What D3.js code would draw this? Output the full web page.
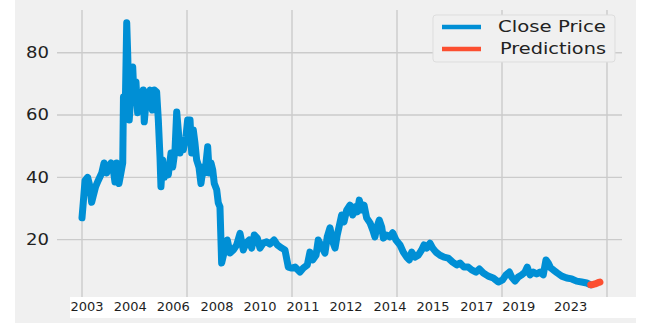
<!DOCTYPE html>
<html>
<head>
<meta charset="utf-8">
<script src="https://cdn.jsdelivr.net/npm/d3@7"></script>
<style>
  html, body { margin: 0; padding: 0; background: #ffffff; }
  svg { display: block; }
</style>
</head>
<body>
<div id="chart"></div>
<script>
// ---- data (trading-day index, close price) ----
const closeDays = [0,12,29,54,76,92,105,130,155,188,210,235,250,276,298,314,330,352,371,388,395,405,414,426,435,441,450,467,483,498,514,530,552,569,584,593,610,631,648,670,689,711,727,743,752,768,784,807,822,848,864,886,902,917,933,950,965,990,1006,1029,1045,1060,1076,1092,1114,1133,1155,1171,1197,1212,1229,1245,1260,1283,1298,1314,1330,1352,1384,1410,1441,1473,1505,1536,1562,1593,1616,1641,1670,1695,1727,1759,1790,1829,1860,1902,1933,1965,1997,2029,2076,2108,2146,2171,2197,2229,2250,2283,2314,2336,2362,2388,2410,2431,2457,2473,2495,2521,2552,2578,2600,2622,2641,2664,2686,2711,2743,2769,2790,2807,2831,2854,2870,2902,2933,2959,2990,3029,3060,3092,3117,3140,3171,3203,3235,3257,3283,3314,3340,3371,3410,3448,3488,3530,3569,3600,3638,3679,3711,3752,3784,3822,3869,3917,3965,4006,4038,4070,4092,4124,4155,4188,4219,4241,4267,4298,4330,4362,4393,4419,4441,4464,4489,4527,4569,4616,4664,4711,4759,4807,4845];
const closeValues = [27,31.8,39,40,37,32,33.7,37,39,41.4,44.6,41.4,43.3,44.6,42.4,38.5,44.6,38,41.4,44.6,65.8,59.4,66,89.6,80,72,58.4,67,75.4,64,70.6,60.7,64,61.6,68,57.8,64,65.8,68,61.6,68,67.4,58.4,46.5,37,45.6,40,43.3,40.8,47.8,43.3,48.8,61,55.2,47.8,52,48.8,53,58.4,58.4,47.8,55.2,51,45.6,43.3,38,43.3,41.4,49.8,41.4,44.6,42.4,38,36,31.8,30.5,12.5,15.7,19.9,15.7,16.7,18.3,22,16.7,18.9,19.9,17.3,21.5,20.5,17.3,18.9,19.3,18.6,19.9,18.3,17.3,16.7,11.2,10.9,11.2,9.6,10.9,11.9,16,13.5,15,19.9,17.7,15.7,20.9,23.8,19.3,17.3,21.5,25.4,27.9,25.7,29.5,31.1,27.9,30.5,28.9,32.7,29.5,31.1,27,25.4,23.1,20.9,23.8,26.3,24.1,20.5,21.5,20.9,22.2,19.9,18.3,16,14.4,13.5,16,14.4,15,16.7,18.3,17.3,18.9,17.3,16,15,14.4,14.1,12.8,11.9,12.5,11.2,11.2,10.3,9.6,10.6,9.3,8.3,7.7,6.4,7.1,8.7,9.6,8,6.7,8,8.7,9.6,11.2,8.7,9.6,9,9.6,8.7,13.5,12.5,10.9,10.3,9.3,8.3,7.7,7.4,6.7,6.4,6.1,5.5];
const predDays = [4845,4854,4886,4914,4933];
const predValues = [5.5,5.5,5.8,6.2,6.4];

const yTicks = [20, 40, 60, 80];
const xGridTicks = [0, 1000, 2000, 3000, 4000, 5000];
const xTickLabels = ["2003","2004","2006","2008","2010","2011","2012","2014","2015","2017","2019","2023"];
const xTickPositions = [48,460,870,1286,1695,2105,2514,2933,3343,3759,4160,4654];
const seriesNames = ["Close Price", "Predictions"];
const seriesColors = ["#008fd5", "#fc4f30"];

// ---- layout ----
const W = 649, H = 328;
const plot = { left: 57, right: 622, top: 10, bottom: 297 };

const svg = d3.select("#chart").append("svg")
  .attr("width", W).attr("height", H);

svg.append("rect").attr("x", 0).attr("y", 0).attr("width", W).attr("height", H).attr("fill", "#ffffff");
// figure background
svg.append("rect").attr("x", 15).attr("y", 0).attr("width", 621).attr("height", 323).attr("fill", "#f0f0f0");

const x = d3.scaleLinear().domain([-238, 5143]).range([plot.left, plot.right]);
const y = d3.scaleLinear().domain([1.6, 93.7]).range([plot.bottom, plot.top]);

// grid
const grid = svg.append("g").attr("stroke", "#cbcbcb").attr("stroke-width", 1.4);
grid.selectAll("line.h").data(yTicks).join("line")
  .attr("class", "h")
  .attr("x1", plot.left).attr("x2", plot.right)
  .attr("y1", d => y(d)).attr("y2", d => y(d));
grid.selectAll("line.v").data(xGridTicks).join("line")
  .attr("class", "v")
  .attr("y1", plot.top).attr("y2", plot.bottom)
  .attr("x1", d => x(d)).attr("x2", d => x(d));

// y labels
svg.append("g").selectAll("text").data(yTicks).join("text")
  .attr("x", 49).attr("y", d => y(d))
  .attr("dy", "0.36em")
  .attr("text-anchor", "end")
  .attr("font-family", "DejaVu Sans, sans-serif")
  .attr("font-size", 15)
  .attr("fill", "#222")
  .attr("textLength", 23)
  .attr("lengthAdjust", "spacingAndGlyphs")
  .text(d => d);

// lines
const closeData = closeDays.map((d, i) => [d, closeValues[i]]);
const predData = predDays.map((d, i) => [d, predValues[i]]);
const line = d3.line().x(d => x(d[0])).y(d => y(d[1]));

svg.append("path").datum(closeData)
  .attr("d", line)
  .attr("fill", "none")
  .attr("stroke", seriesColors[0])
  .attr("stroke-width", 7)
  .attr("stroke-linejoin", "round")
  .attr("stroke-linecap", "round");
svg.append("path").datum(predData)
  .attr("d", line)
  .attr("fill", "none")
  .attr("stroke", seriesColors[1])
  .attr("stroke-width", 7)
  .attr("stroke-linejoin", "round")
  .attr("stroke-linecap", "round");

// x label strip
svg.append("rect").attr("x", 70).attr("y", 297).attr("width", 566).attr("height", 21).attr("fill", "#ffffff");
svg.append("g").selectAll("text").data(xTickLabels).join("text")
  .attr("x", (d, i) => x(xTickPositions[i]))
  .attr("y", 311)
  .attr("text-anchor", "middle")
  .attr("font-family", "DejaVu Sans, sans-serif")
  .attr("font-size", 13)
  .attr("fill", "#1e1e1e")
  .text(d => d);

// legend
const lg = svg.append("g");
lg.append("rect").attr("x", 433).attr("y", 15).attr("width", 182).attr("height", 47)
  .attr("rx", 3).attr("fill", "#f0f0f0").attr("stroke", "#dddddd").attr("stroke-width", 1);
const rows = lg.selectAll("g.row").data(seriesNames).join("g").attr("class", "row")
  .attr("transform", (d, i) => `translate(0, ${27 + i * 22})`);
rows.append("line").attr("x1", 442).attr("x2", 481).attr("y1", 0).attr("y2", 0)
  .attr("stroke", (d, i) => seriesColors[i]).attr("stroke-width", 4.5);
rows.append("text").attr("x", (d, i) => i === 0 ? 498 : 500).attr("y", 0).attr("dy", "0.36em")
  .attr("font-family", "DejaVu Sans, sans-serif").attr("font-size", 15)
  .attr("fill", "#222")
  .attr("textLength", (d, i) => i === 0 ? 108 : 106)
  .attr("lengthAdjust", "spacingAndGlyphs")
  .text(d => d);
</script>
</body>
</html>
